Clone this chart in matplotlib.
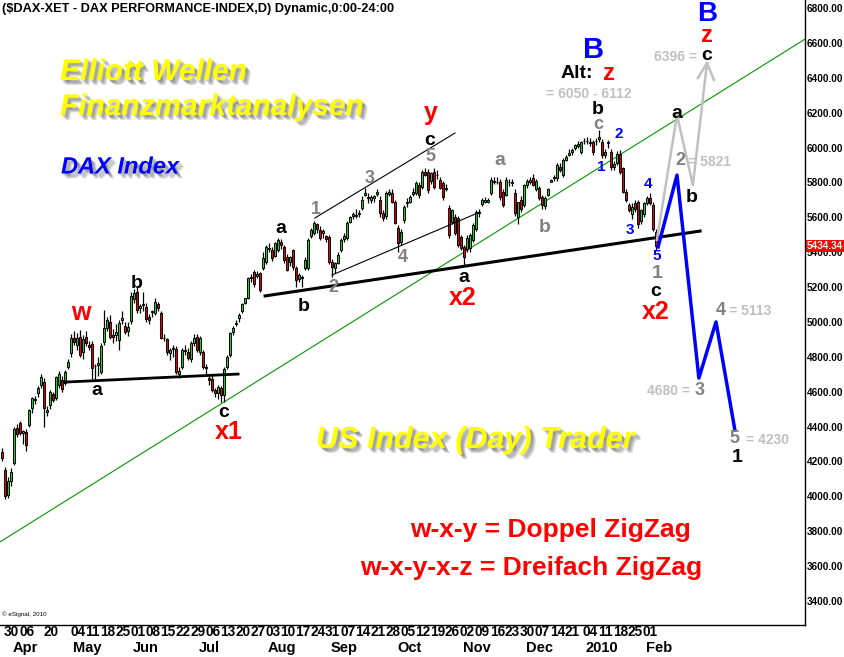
import numpy as np
import pandas as pd
import matplotlib
matplotlib.use("Agg")
import matplotlib.pyplot as plt
import matplotlib.patheffects as pe
from matplotlib import transforms
from matplotlib.ticker import FormatStrFormatter

plt.rcParams['font.family'] = ['Liberation Sans', 'DejaVu Sans']

# trading calendar (Xetra), 27.03.2009 - 05.02.2010
holidays = ['2009-04-10', '2009-04-13', '2009-05-01', '2009-12-24',
            '2009-12-25', '2009-12-31', '2010-01-01']
dates = pd.bdate_range('2009-03-27', '2010-02-05')
dates = dates[~dates.isin(pd.to_datetime(holidays))]

# daily candles
opens = [4255, 4150, 4010, 4085, 4190, 4390, 4420, 4365, 4370, 4410,
         4505, 4555, 4590, 4640, 4655, 4485, 4525, 4585, 4565, 4640,
         4665, 4650, 4740, 4820, 4910, 4870, 4915, 4830, 4915, 4865,
         4875, 4745, 4755, 4715, 4885, 4965, 5000, 4925, 4925, 4895,
         5010, 4975, 4950, 5005, 5130, 5170, 5080, 5095, 5085, 5030,
         5055, 5050, 5100, 5050, 4910, 4900, 4820, 4845, 4845, 4700,
         4740, 4840, 4830, 4785, 4880, 4915, 4830, 4830, 4740, 4680,
         4675, 4610, 4595, 4620, 4580, 4740, 4810, 4940, 4990, 5020,
         5060, 5110, 5140, 5250, 5285, 5265, 5280, 5310, 5345, 5420,
         5410, 5380, 5415, 5460, 5430, 5370, 5345, 5410, 5310, 5245,
         5255, 5310, 5310, 5495, 5510, 5560, 5525, 5510, 5490, 5485,
         5345, 5310, 5340, 5410, 5475, 5480, 5575, 5610, 5615, 5620,
         5655, 5730, 5710, 5700, 5710, 5735, 5700, 5625, 5610, 5735,
         5740, 5690, 5540, 5460, 5585, 5680, 5690, 5735, 5740, 5785,
         5775, 5860, 5860, 5810, 5860, 5840, 5815, 5795, 5770, 5655,
         5575, 5600, 5595, 5485, 5430, 5420, 5425, 5470, 5530, 5630,
         5675, 5690, 5685, 5740, 5800, 5800, 5800, 5745, 5730, 5800,
         5795, 5740, 5600, 5700, 5670, 5785, 5805, 5825, 5760, 5770,
         5715, 5665, 5730, 5805, 5825, 5825, 5890, 5845, 5930, 5960,
         5975, 5995, 6010, 5975, 6035, 6040, 6030, 6030, 6035, 6050,
         6030, 5955, 6025, 5975, 5890, 5910, 5965, 5880, 5745, 5670,
         5620, 5680, 5690, 5580, 5620, 5680, 5710, 5670, 5515]
highs = [4275, 4170, 4110, 4160, 4400, 4415, 4430, 4380, 4385, 4500,
         4570, 4575, 4630, 4700, 4680, 4520, 4610, 4600, 4690, 4720,
         4690, 4725, 4790, 4930, 4950, 4935, 4955, 4925, 4950, 4890,
         4890, 4760, 4800, 4880, 5070, 5030, 5040, 4960, 4990, 5010,
         5060, 5000, 5000, 5170, 5190, 5200, 5100, 5170, 5110, 5045,
         5070, 5140, 5115, 5060, 4930, 4910, 4850, 4870, 4860, 4740,
         4850, 4870, 4850, 4890, 4930, 4930, 4920, 4840, 4760, 4695,
         4700, 4620, 4640, 4630, 4740, 4810, 4940, 4975, 5010, 5050,
         5110, 5140, 5260, 5275, 5300, 5290, 5285, 5400, 5440, 5450,
         5430, 5460, 5480, 5475, 5440, 5390, 5380, 5420, 5320, 5280,
         5270, 5370, 5480, 5540, 5580, 5570, 5550, 5530, 5500, 5500,
         5360, 5345, 5400, 5480, 5510, 5580, 5610, 5630, 5650, 5640,
         5720, 5770, 5740, 5730, 5730, 5765, 5720, 5640, 5750, 5760,
         5760, 5700, 5555, 5530, 5670, 5710, 5725, 5770, 5810, 5800,
         5870, 5880, 5875, 5860, 5880, 5870, 5830, 5810, 5790, 5670,
         5650, 5620, 5610, 5500, 5440, 5500, 5510, 5570, 5640, 5650,
         5710, 5715, 5710, 5830, 5830, 5830, 5820, 5760, 5830, 5820,
         5820, 5760, 5690, 5720, 5790, 5820, 5830, 5850, 5820, 5780,
         5730, 5720, 5770, 5820, 5840, 5910, 5910, 5940, 5960, 5990,
         6000, 6020, 6040, 6040, 6055, 6060, 6055, 6045, 6055, 6100,
         6050, 5990, 6045, 5990, 5920, 5980, 5985, 5890, 5760, 5680,
         5680, 5700, 5700, 5650, 5690, 5720, 5740, 5690, 5530]
lows = [4200, 3985, 3990, 4060, 4180, 4340, 4350, 4300, 4260, 4400,
        4480, 4530, 4570, 4620, 4400, 4460, 4500, 4540, 4550, 4620,
        4600, 4640, 4730, 4800, 4870, 4840, 4800, 4790, 4860, 4840,
        4670, 4660, 4690, 4700, 4870, 4950, 4900, 4880, 4890, 4840,
        4990, 4930, 4920, 4990, 5110, 5050, 5050, 5060, 5000, 4990,
        5030, 5040, 5060, 4900, 4890, 4810, 4780, 4800, 4700, 4680,
        4730, 4810, 4780, 4770, 4860, 4830, 4810, 4730, 4700, 4640,
        4600, 4570, 4560, 4540, 4540, 4730, 4800, 4925, 4975, 5000,
        5050, 5100, 5130, 5230, 5200, 5250, 5170, 5300, 5330, 5400,
        5350, 5370, 5400, 5420, 5340, 5290, 5320, 5300, 5200, 5230,
        5200, 5300, 5300, 5480, 5500, 5510, 5470, 5480, 5460, 5330,
        5260, 5280, 5330, 5400, 5460, 5470, 5565, 5590, 5595, 5600,
        5640, 5720, 5680, 5680, 5690, 5720, 5600, 5580, 5590, 5720,
        5680, 5560, 5400, 5440, 5570, 5660, 5680, 5720, 5730, 5710,
        5760, 5835, 5740, 5790, 5760, 5820, 5760, 5700, 5750, 5480,
        5560, 5500, 5430, 5410, 5320, 5400, 5400, 5460, 5520, 5600,
        5665, 5680, 5680, 5730, 5790, 5790, 5700, 5660, 5720, 5780,
        5780, 5610, 5560, 5630, 5660, 5770, 5790, 5780, 5750, 5700,
        5650, 5650, 5720, 5800, 5810, 5810, 5860, 5830, 5920, 5950,
        5960, 5985, 6000, 5965, 6020, 6020, 6010, 5960, 6015, 6030,
        5940, 5940, 6000, 5870, 5870, 5900, 5850, 5740, 5690, 5630,
        5590, 5630, 5540, 5560, 5600, 5670, 5670, 5520, 5410]
closes = [4220, 4000, 4090, 4140, 4385, 4360, 4365, 4375, 4295, 4495,
          4565, 4560, 4620, 4685, 4505, 4495, 4600, 4555, 4685, 4700,
          4615, 4715, 4770, 4910, 4885, 4905, 4810, 4900, 4880, 4855,
          4735, 4750, 4765, 4860, 4965, 5010, 4915, 4915, 4945, 4995,
          5020, 4945, 4970, 5150, 5165, 5070, 5090, 5100, 5015, 5010,
          5065, 5115, 5080, 4910, 4905, 4825, 4840, 4850, 4710, 4720,
          4840, 4835, 4795, 4880, 4910, 4840, 4910, 4740, 4735, 4665,
          4610, 4590, 4625, 4580, 4730, 4800, 4935, 4965, 4995, 5040,
          5105, 5135, 5250, 5255, 5215, 5275, 5185, 5365, 5430, 5425,
          5365, 5455, 5470, 5440, 5355, 5300, 5372, 5315, 5240, 5270,
          5250, 5355, 5470, 5525, 5565, 5530, 5480, 5520, 5475, 5345,
          5315, 5335, 5385, 5470, 5490, 5570, 5600, 5620, 5610, 5625,
          5700, 5740, 5715, 5715, 5720, 5745, 5625, 5595, 5740, 5745,
          5690, 5570, 5455, 5515, 5660, 5690, 5715, 5745, 5795, 5730,
          5860, 5845, 5755, 5855, 5775, 5845, 5770, 5715, 5765, 5500,
          5640, 5510, 5440, 5425, 5375, 5480, 5500, 5555, 5630, 5625,
          5700, 5700, 5700, 5815, 5810, 5805, 5715, 5670, 5815, 5800,
          5800, 5625, 5690, 5645, 5785, 5810, 5812, 5785, 5810, 5710,
          5670, 5710, 5760, 5815, 5830, 5900, 5870, 5930, 5945, 5970,
          5985, 6014, 6020, 6030, 6040, 6035, 6025, 5975, 6040, 6060,
          5957, 5975, 6030, 5890, 5905, 5965, 5860, 5745, 5700, 5640,
          5660, 5645, 5560, 5640, 5680, 5710, 5680, 5535, 5434.34]

last_price = 5434.34

# x axis labels (weekly days + months)
week_ticks = ['2009-03-30', '2009-04-06', '2009-04-20', '2009-05-04', '2009-05-11',
              '2009-05-18', '2009-05-25', '2009-06-01', '2009-06-08', '2009-06-15',
              '2009-06-22', '2009-06-29', '2009-07-06', '2009-07-13', '2009-07-20',
              '2009-07-27', '2009-08-03', '2009-08-10', '2009-08-17', '2009-08-24',
              '2009-08-31', '2009-09-07', '2009-09-14', '2009-09-21', '2009-09-28',
              '2009-10-05', '2009-10-12', '2009-10-19', '2009-10-26', '2009-11-02',
              '2009-11-09', '2009-11-16', '2009-11-23', '2009-11-30', '2009-12-07',
              '2009-12-14', '2009-12-21', '2010-01-04', '2010-01-11', '2010-01-18',
              '2010-01-25', '2010-02-01']
month_names = ['Apr', 'May', 'Jun', 'Jul', 'Aug', 'Sep', 'Oct', 'Nov', 'Dec', '2010', 'Feb']
month_starts = ['2009-04-01', '2009-05-04', '2009-06-01', '2009-07-01', '2009-08-03',
                '2009-09-01', '2009-10-01', '2009-11-02', '2009-12-01', '2010-01-04',
                '2010-02-01']

# wave labels: text, bar index, price, colour, size
waves = [
    ('w', 26.3, 5051, 'red', 18), ('a', 31.7, 4604, 'black', 14),
    ('b', 45, 5223, 'black', 14), ('c', 74, 4478, 'black', 14),
    ('x1', 75.7, 4369, 'red', 18), ('a', 93, 5533, 'black', 14),
    ('b', 100.7, 5091, 'black', 14), ('1', 104.7, 5642, 'gray', 13),
    ('2', 110.3, 5195, 'gray', 13), ('3', 122.7, 5825, 'gray', 13),
    ('4', 133.7, 5367, 'gray', 13), ('5', 142.7, 5946, 'gray', 13),
    ('c', 142.7, 6043, 'black', 14), ('y', 143, 6198, 'red', 18),
    ('a', 166, 5928, 'gray', 14), ('b', 181, 5539, 'gray', 14),
    ('a', 154, 5252, 'black', 14), ('x2', 153.7, 5137, 'red', 18),
    ('b', 198.7, 6218, 'black', 14), ('c', 198.7, 6132, 'gray', 13),
    ('B', 197.3, 6559, 'blue', 21), ('z', 202.3, 6427, 'red', 17),
    ('1', 199.7, 5888, 'blue', 11), ('2', 205.7, 6077, 'blue', 11),
    ('3', 209.3, 5527, 'blue', 11), ('4', 215.3, 5791, 'blue', 11),
    ('5', 218.3, 5378, 'blue', 11), ('1', 218.3, 5275, 'gray', 14),
    ('c', 218, 5177, 'black', 14), ('x2', 218, 5057, 'red', 18),
    ('a', 225, 6198, 'black', 14), ('2', 226, 5928, 'gray', 13),
    ('b', 230, 5711, 'black', 14), ('c', 235, 6530, 'black', 14),
    ('z', 235, 6640, 'red', 17), ('B', 235, 6768, 'blue', 20),
    ('4', 239.7, 5063, 'gray', 13), ('3', 232.7, 4604, 'gray', 13),
    ('5', 244.3, 4334, 'gray', 13), ('1', 245, 4220, 'black', 14),
]
# target notes: text, bar index, price, alignment
targets = [
    ('= 6050 - 6112', 195.7, 6307, 'center'), ('= 5821', 228.7, 5917, 'left'),
    ('6396 =', 231.7, 6519, 'right'), ('= 5113', 242.3, 5063, 'left'),
    ('4680 =', 229.3, 4604, 'right'), ('= 4230', 248, 4323, 'left'),
]

# trend lines / projections (bar index, price)
trend_green = ([-0.7, 267.7], [3738, 6622])
support_a = ([21, 78.7], [4655, 4701])
support_b = ([87.7, 232.7], [5149, 5521])
chan_top = ([104.3, 151], [5596, 6083])
chan_low = ([110, 159.3], [5269, 5630])
proj_blue = ([218.7, 225, 232.3, 238, 244.3], [5430, 5842, 4678, 5000, 4380])
proj_grey = ([218.3, 225, 230.3, 235], [5470, 6186, 5785, 6485])
arrow_grey = ([232, 235, 237.3], [6399, 6485, 6388])

fig = plt.figure(figsize=(8.45, 6.57), dpi=100)
ax = fig.add_axes([0, 32 / 657, 805 / 845, 625 / 657])
ax.set_xlim(-0.67, 267.67)
ax.set_ylim(3262, 6846)

o = np.array(opens, float)
h = np.array(highs, float)
l = np.array(lows, float)
c = np.array(closes, float)
idx = np.arange(len(c))
up = c >= o

ax.plot(*trend_green, color='#009900', lw=0.8, zorder=1)
ax.vlines(idx, l, h, color='black', lw=0.9, zorder=2)
ax.bar(idx, np.abs(c - o), bottom=np.minimum(o, c), width=0.85,
       color=np.where(up, '#19D219', '#E60000'), edgecolor='black',
       linewidth=0.7, zorder=3)

ax.plot(*support_a, color='black', lw=2, zorder=4)
ax.plot(*support_b, color='black', lw=2.2, zorder=4)
ax.plot(*chan_top, color='black', lw=0.8, zorder=4)
ax.plot(*chan_low, color='black', lw=0.8, zorder=4)
ax.plot(*proj_grey, color='#C0C0C0', lw=1.8, zorder=4)
ax.plot(*arrow_grey, color='#C0C0C0', lw=1.8, zorder=4)
ax.plot(*proj_blue, color='#0000FF', lw=2.5, zorder=5)

for txt, xi, yp, col, sz in waves:
    ax.text(xi, yp, txt, color=col, fontsize=sz, fontweight='bold',
            ha='center', va='center', zorder=6)
ax.text(191.7, 6427, 'Alt:', color='black', fontsize=14, fontweight='bold',
        ha='center', va='center', zorder=6)
for txt, xi, yp, al in targets:
    ax.text(xi, yp, txt, color='#C0C0C0', fontsize=10, fontweight='bold',
            ha=al, va='center', zorder=6)

# axes frame
for s in ['left', 'top']:
    ax.spines[s].set_visible(False)
for s in ['right', 'bottom']:
    ax.spines[s].set_color('black')
    ax.spines[s].set_linewidth(1)

ax.yaxis.tick_right()
ax.set_yticks(np.arange(3400, 6801, 200))
ax.yaxis.set_major_formatter(FormatStrFormatter('%.2f'))
ax.tick_params(axis='y', length=0, pad=1.5, labelsize=7.2)
for lbl in ax.get_yticklabels():
    lbl.set_fontweight('bold')
ax.set_xticks([])

trans = transforms.blended_transform_factory(ax.transAxes, ax.transData)
ax.text(1.002, last_price, f'{last_price:.2f}', transform=trans, color='white',
        fontsize=7.2, fontweight='bold', ha='left', va='center', zorder=10,
        bbox=dict(boxstyle='square,pad=0.1', fc='#FF0000', ec='none'))

pos = {d: i for i, d in enumerate(dates)}
narrow = ['Liberation Sans Narrow', 'Liberation Sans']
for d in week_ticks:
    i = pos[pd.Timestamp(d)]
    ax.annotate(d[-2:], xy=(i, 0), xycoords=('data', 'axes fraction'),
                xytext=(-1, -7), textcoords='offset pixels', ha='left', va='center',
                fontsize=9.8, fontweight='bold', family=narrow, annotation_clip=False)
for name, d in zip(month_names, month_starts):
    i = pos[pd.Timestamp(d)]
    ax.annotate(name, xy=(i, 0), xycoords=('data', 'axes fraction'),
                xytext=(2, -23), textcoords='offset pixels', ha='left', va='center',
                fontsize=10.5, fontweight='bold', family=narrow, annotation_clip=False)

# header and big captions
fig.text(2 / 845, 1 - 9 / 657, '($DAX-XET - DAX PERFORMANCE-INDEX,D) Dynamic,0:00-24:00',
         fontsize=9.2, fontweight='bold', va='center', ha='left')
fig.text(2 / 845, 1 - 614 / 657, '© eSignal, 2010', fontsize=4.5, va='center')

shadow = [pe.SimplePatchShadow(offset=(k, -k), shadow_rgbFace='black', alpha=0.13)
          for k in (1.2, 2.0, 2.8, 3.6)] + [pe.Normal()]


def caption(x, y, s, col, size):
    fig.text(x / 845, 1 - y / 657, s, color=col, fontsize=size, fontweight='bold',
             fontstyle='italic', va='center', ha='left', path_effects=shadow)


caption(60, 72, 'Elliott Wellen', '#FFFF00', 21.5)
caption(60, 107, 'Finanzmarktanalysen', '#FFFF00', 21.5)
caption(61, 167, 'DAX Index', '#0000FF', 17)
caption(316, 440, 'US Index (Day) Trader', '#FFFF00', 22)

fig.text(410 / 845, 1 - 530 / 657, 'w-x-y = Doppel ZigZag', color='#FF0000',
         fontsize=19, fontweight='bold', va='center', ha='left')
fig.text(360 / 845, 1 - 568 / 657, 'w-x-y-x-z = Dreifach ZigZag', color='#FF0000',
         fontsize=19, fontweight='bold', va='center', ha='left')

fig.savefig('out.png', dpi=100)
